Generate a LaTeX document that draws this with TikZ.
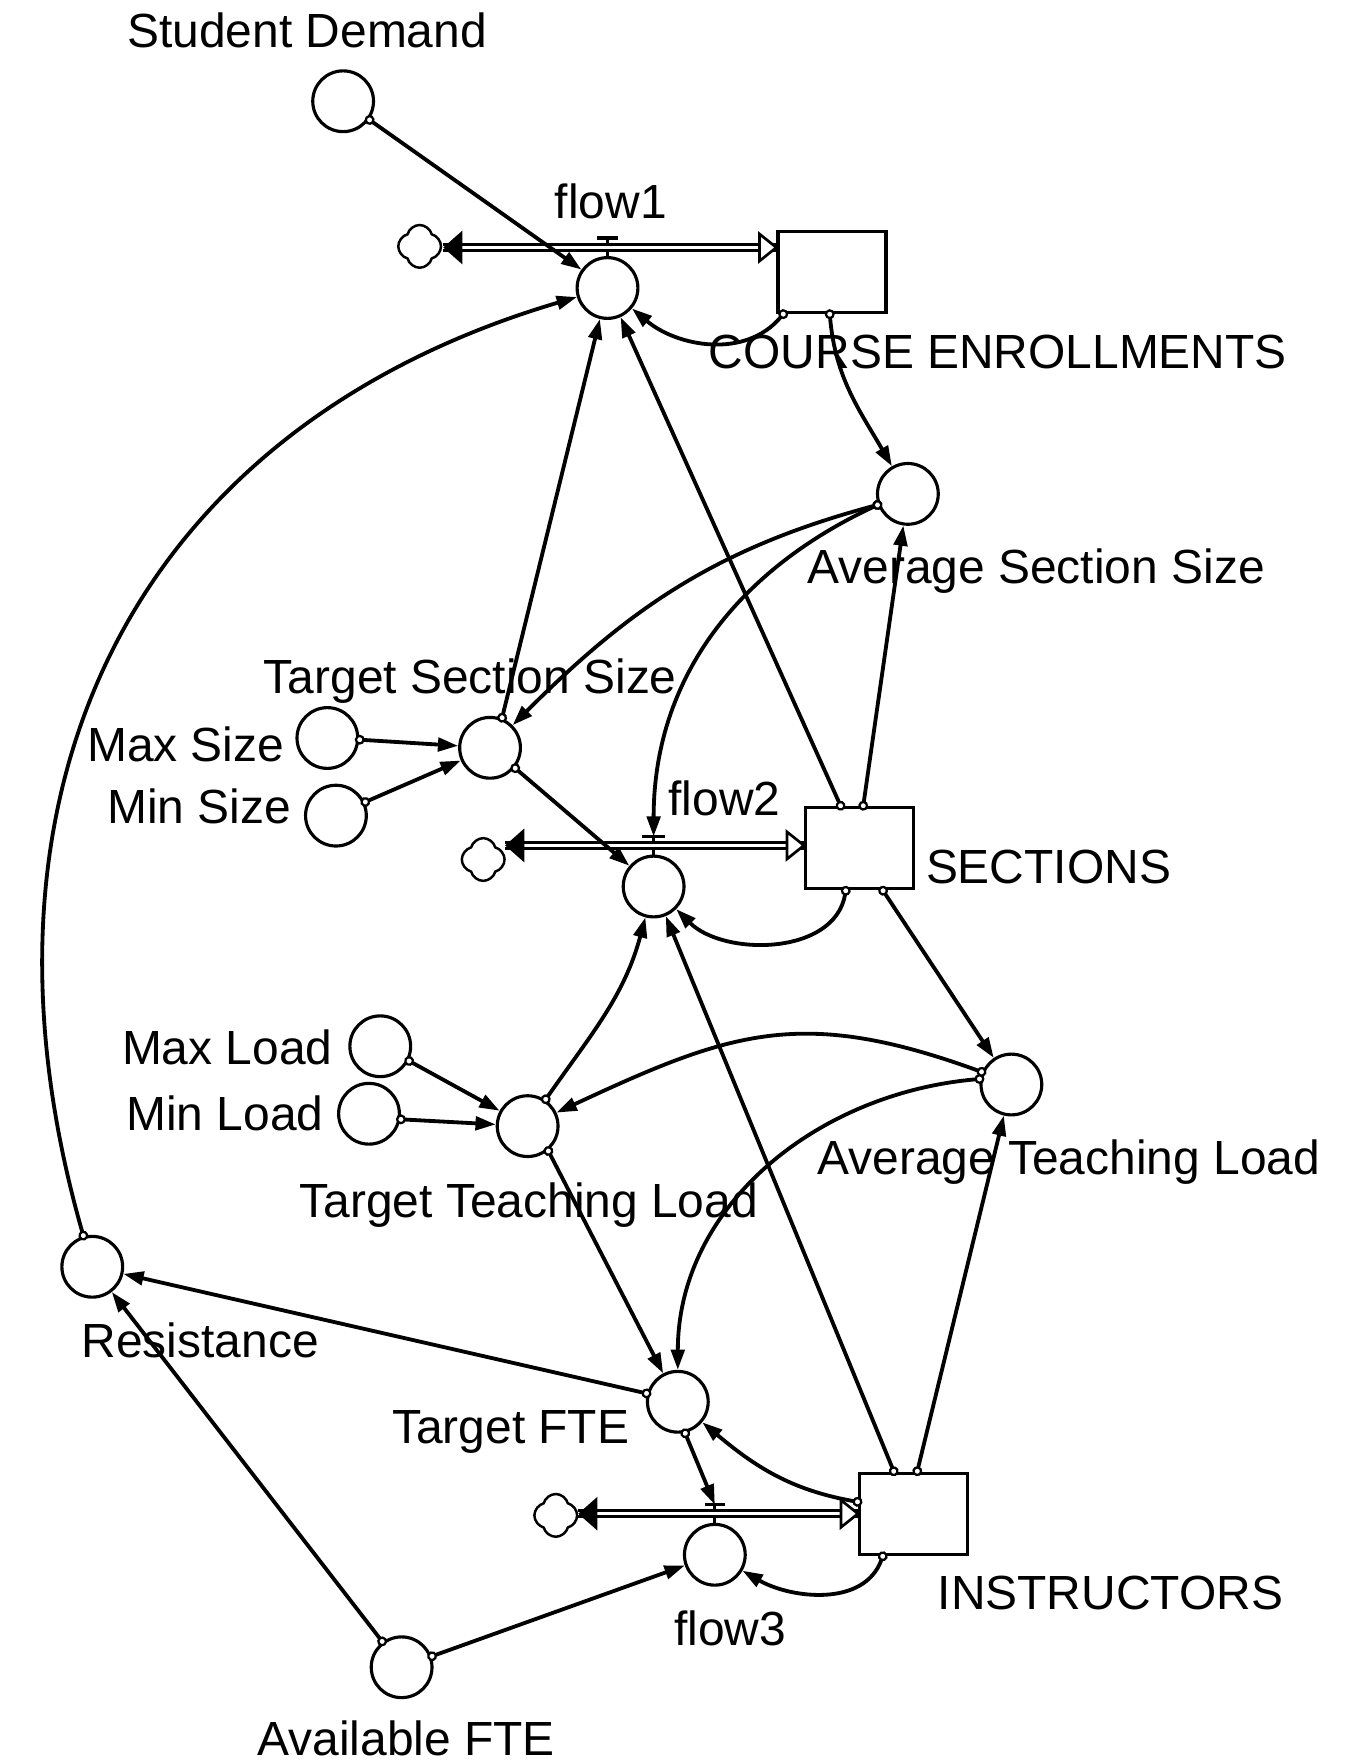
\documentclass[tikz,border=0pt]{standalone}
\usepackage{fontspec}
\setmainfont{Liberation Sans}
\usetikzlibrary{positioning}
\usetikzlibrary{arrows.meta}
\usetikzlibrary{shapes.symbols}

\begin{document}
\begin{tikzpicture}[x=0.5pt, y=0.5pt,
	aux/.style={circle, draw, line width=1.4pt, minimum size=27pt, inner sep=0pt},
	stock/.style={rectangle, draw, line width=1.4pt, minimum width=48pt, minimum height=36pt, inner sep=0pt},
	lbl/.style={font=\fontsize{21.3}{24}\selectfont, inner sep=0pt, text height=15.3pt, text depth=0pt},
	link/.style={line width=1.7pt, shorten <=-2pt, {Circle[open, fill=white, length=4.4pt, width=4.4pt, line width=1pt]}-{Triangle[length=9pt, width=6pt]}},
	pipe/.style={double, line width=1.3pt, double distance=1.5pt},
	sink/.style={cloud, cloud puffs=4, draw, line width=1.1pt, minimum width=19pt, minimum height=19pt, aspect=1, inner sep=0pt},
	valve/.style={line width=1.4pt}]
	\useasboundingbox (0,0) rectangle (1197,-1568);

	%Stocks
	\node[stock] (enroll)   at (739.5,-241.5) {};
	\node[stock] (sections) at (764,-754) {};
	\node[stock] (instr)    at (812,-1345.5) {};

	%Auxiliaries
	\node[aux] (demand)  at (305,-90) {};
	\node[aux] (flow1)   at (540,-256) {};
	\node[aux] (avgsize) at (807,-439) {};
	\node[aux] (tgtsize) at (435.6,-664.7) {};
	\node[aux] (maxsize) at (291,-656) {};
	\node[aux] (minsize) at (298.6,-725) {};
	\node[aux] (flow2)   at (581,-788) {};
	\node[aux] (maxload) at (338,-930) {};
	\node[aux] (minload) at (328,-990) {};
	\node[aux] (tgtload) at (469,-1001) {};
	\node[aux] (avgload) at (899,-964) {};
	\node[aux] (resist)  at (82,-1126) {};
	\node[aux] (tgtfte)  at (602.5,-1246) {};
	\node[aux] (flow3)   at (635.4,-1382) {};
	\node[aux] (avail)   at (357,-1482) {};

	%Clouds
	\node[sink] (cloud1) at (373,-219) {};
	\node[sink] (cloud2) at (429.5,-764) {};
	\node[sink] (cloud3) at (494,-1347) {};

	%Valves
	\draw[valve] (flow1.north) -- ++(0,16) coordinate (v1);
	\draw[valve] (flow2.north) -- ++(0,16) coordinate (v2);
	\draw[valve] (flow3.north) -- ++(0,16) coordinate (v3);

	%Pipes
	\coordinate (p1) at (394,-220);
	\coordinate (p2) at (449,-751.5);
	\coordinate (p3) at (514,-1345.5);
	\draw[pipe] (p1) -- (p1 -| enroll.west);
	\draw[pipe] (p2) -- (p2 -| sections.west);
	\draw[pipe] (p3) -- (p3 -| instr.west);
	\fill (p1) -- ++(17,15) -- ++(0,-30) -- cycle;
	\fill (p2) -- ++(17,15) -- ++(0,-30) -- cycle;
	\fill (p3) -- ++(17,15) -- ++(0,-30) -- cycle;
	\draw[line width=1.2pt, fill=white] (p1 -| enroll.west) -- ++(-15,12) -- ++(0,-24) -- cycle;
	\draw[line width=1.2pt, fill=white] (p2 -| sections.west) -- ++(-15,12) -- ++(0,-24) -- cycle;
	\draw[line width=1.2pt, fill=white] (p3 -| instr.west) -- ++(-15,12) -- ++(0,-24) -- cycle;
	\draw[valve] ([xshift=-4.5pt]v1) -- ([xshift=4.5pt]v1);
	\draw[valve] ([xshift=-5pt]v2) -- ([xshift=5pt]v2);
	\draw[valve] ([xshift=-4.5pt]v3) -- ([xshift=4.5pt]v3);

	%Connectors
	\draw[link] (demand) -- (flow1);
	\draw[link] (enroll.-139) to[out=-130, in=-40] (flow1);
	\draw[link] (enroll.-93) to[out=-85, in=120] (avgsize);
	\draw[link] (resist) .. controls (-40,-700) and (120,-380) .. (flow1);
	\draw[link] (tgtsize.68) -- (flow1);
	\draw[link] (sections.114) -- (flow1);
	\draw[link] (avgsize.200) to[out=195, in=45] (tgtsize);
	\draw[link] (avgsize.200) to[out=205, in=90] (v2);
	\draw[link] (sections.85) -- (avgsize);
	\draw[link] (maxsize.-3) -- (tgtsize);
	\draw[link] (minsize.25) -- (tgtsize);
	\draw[link] (tgtsize.-39) -- (flow2);
	\draw[link] (sections.-108) to[out=-100, in=-45] (flow2);
	\draw[link] (sections.-61) -- (avgload);
	\draw[link] (tgtload.56) to[out=55, in=-105] (flow2);
	\draw[link] (instr.115) -- (flow2);
	\draw[link] (avgload.157) to[out=160, in=25, looseness=1.15] (tgtload);
	\draw[link] (avgload.170) to[out=185, in=90] (tgtfte);
	\draw[link] (maxload.-27) -- (tgtload);
	\draw[link] (minload.-10) -- (tgtload);
	\draw[link] (tgtload.-50) -- (tgtfte);
	\draw[link] (instr.85) -- (avgload);
	\draw[link] (tgtfte.165) -- (resist);
	\draw[link] (avail.127) -- (resist);
	\draw[link] (avail.20) -- (flow3);
	\draw[link] (tgtfte.-77) -- (v3);
	\draw[link] (instr.168) to[out=170, in=-40] (tgtfte);
	\draw[link] (instr.-126) to[out=-110, in=-30] (flow3);

	%Labels
	\node[lbl] (l-demand)   at (273,-27)   {Student Demand};
	\node[lbl] (l-flow1)    at (543,-179)  {flow1};
	\node[lbl] (l-enroll)   at (887,-312)  {COURSE ENROLLMENTS};
	\node[lbl] (l-avgsize)  at (921,-503)  {Average Section Size};
	\node[lbl] (l-tgtsize)  at (418,-601)  {Target Section Size};
	\node[lbl] (l-maxsize)  at (165,-662)  {Max Size};
	\node[lbl] (l-minsize)  at (177,-717)  {Min Size};
	\node[lbl] (l-flow2)    at (644,-710)  {flow2};
	\node[lbl] (l-sections) at (932,-770)  {SECTIONS};
	\node[lbl] (l-maxload)  at (202,-931)  {Max Load};
	\node[lbl] (l-minload)  at (200,-990)  {Min Load};
	\node[lbl] (l-avgload)  at (950,-1029) {Average Teaching Load};
	\node[lbl] (l-tgtload)  at (470,-1067) {Target Teaching Load};
	\node[lbl] (l-resist)   at (178,-1191) {Resistance};
	\node[lbl] (l-tgtfte)   at (454,-1268) {Target FTE};
	\node[lbl] (l-instr)    at (987,-1415) {INSTRUCTORS};
	\node[lbl] (l-flow3)    at (649,-1447) {flow3};
	\node[lbl] (l-avail)    at (361,-1545) {Available FTE};
\end{tikzpicture}
\end{document}
